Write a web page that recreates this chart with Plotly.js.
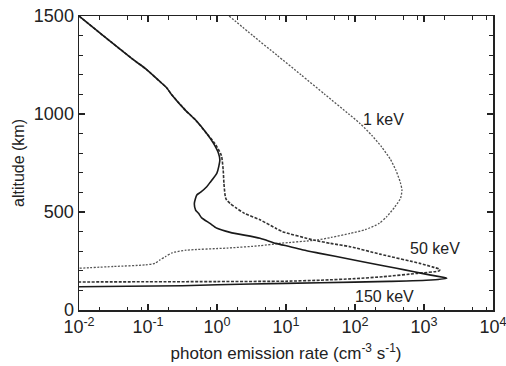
<!DOCTYPE html>
<html>
<head>
<meta charset="utf-8">
<script src="https://cdn.plot.ly/plotly-3.0.1.min.js"></script>
<style>
html,body{margin:0;padding:0;background:#fff;}
#chart{width:506px;height:366px;}
</style>
</head>
<body>
<div id="chart"></div>
<script>
// 150 keV (solid)
const alt150 = [1500,1400,1276,1230,1173,1135,1100,1020,969,900,850,800,765,700,650,629,600,587,544,510,493,470,442,417,396,366,340,323,306,289,259,236,213,196,178,162,153,146,139,133,124,121,119];
const rate150 = [0.010,0.0224,0.062,0.093,0.141,0.185,0.219,0.347,0.49,0.71,0.89,1.05,1.10,1.00,0.79,0.71,0.575,0.51,0.47,0.49,0.54,0.60,0.79,1.00,1.55,4.2,7.1,11.5,17.8,31,85,182,400,690,1260,2140,1260,316,31.6,3.16,0.316,0.05,0.010];

// 50 keV (dotted, dark)
const alt50 = [1500,1400,1276,1230,1173,1135,1100,1020,969,900,850,800,782,714,646,578,561,544,520,493,460,417,400,357,340,323,285,238,220,207,200,187,170,160,152,147,145,144,143];
const rate50 = [0.010,0.0224,0.062,0.093,0.141,0.185,0.219,0.347,0.49,0.71,0.93,1.12,1.17,1.23,1.26,1.32,1.38,1.55,1.91,2.5,4.2,7.1,8.9,25,44,85,230,870,1320,1700,1660,800,257,100,31.6,10,1.0,0.1,0.010];

// 1 keV (fine dotted, grey)
const alt1 = [1500,1400,1300,1200,1100,1000,952,890,833,770,714,650,612,570,527,476,442,410,391,370,357,340,328,316,305,292,272,255,238,230,222,213];
const rate1 = [1.50,3.3,7.4,16.5,36.6,81,118,176,242,324,390,455,479,457,380,288,224,141,85,45,28,8.1,4.2,1.41,0.355,0.224,0.178,0.148,0.126,0.091,0.032,0.010];

// axis ticks and labels
const xMajor = [0.01,0.1,1,10,100,1000,10000];
const xMajorText = ["10<sup>-2</sup>","10<sup>-1</sup>","10<sup>0</sup>","10<sup>1</sup>","10<sup>2</sup>","10<sup>3</sup>","10<sup>4</sup>"];
const xMinorMult = [2,5,8];
const yMajor = [0,500,1000,1500];
const yMinor = [100,200,300,400,600,700,800,900,1100,1200,1300,1400];

// curve labels
const labelText = ["1 keV","50 keV","150 keV"];
const labelX = [263, 1450, 270];
const labelY = [972, 314, 69];

const xMinor = [];
xMajor.slice(0,-1).forEach(d => xMinorMult.forEach(m => xMinor.push(d*m)));

const fontFam = 'Liberation Sans, Arial, Helvetica, sans-serif';

const traces = [
  {x: rate1, y: alt1, mode:'lines', line:{color:'#555', width:1.3, dash:'2px,1.5px', shape:'spline', smoothing:0.6}, hoverinfo:'skip'},
  {x: rate50, y: alt50, mode:'lines', line:{color:'#333', width:1.6, dash:'3px,1.5px', shape:'spline', smoothing:0.6}, hoverinfo:'skip'},
  {x: rate150, y: alt150, mode:'lines', line:{color:'#1a1a1a', width:1.6, shape:'spline', smoothing:0.6}, hoverinfo:'skip'}
];

const annotations = labelText.map((t,i)=>({
  x: Math.log10(labelX[i]), y: labelY[i], xref:'x', yref:'y', text:t, showarrow:false,
  font:{family:fontFam, size:16, color:'#222'}
}));

const layout = {
  width:506, height:366,
  margin:{l:79, r:13, t:16, b:56},
  paper_bgcolor:'#fff', plot_bgcolor:'#fff',
  showlegend:false,
  font:{family:fontFam, color:'#222'},
  xaxis:{
    type:'log', range:[-2,4], tickmode:'array', tickvals:xMajor, ticktext:xMajorText,
    ticks:'inside', ticklen:6, tickwidth:1.2, tickcolor:'#222', ticklabeloverflow:'allow',
    minor:{tickmode:'array', tickvals:xMinor, ticks:'inside', ticklen:3.5, tickwidth:1.1, tickcolor:'#222', showgrid:false},
    showline:true, linecolor:'#222', linewidth:1.5, mirror:'ticks', showgrid:false, zeroline:false,
    tickfont:{family:fontFam, size:18, color:'#222'},
    title:{text:'photon emission rate (cm<sup>-3</sup> s<sup>-1</sup>)', font:{family:fontFam, size:17, color:'#222'}, standoff:11}
  },
  yaxis:{
    range:[0,1500], tickmode:'array', tickvals:yMajor,
    ticks:'inside', ticklen:6, tickwidth:1.2, tickcolor:'#222',
    minor:{tickmode:'array', tickvals:yMinor, ticks:'inside', ticklen:4, tickwidth:1.1, tickcolor:'#222', showgrid:false},
    showline:true, linecolor:'#222', linewidth:1.5, mirror:'ticks', showgrid:false, zeroline:false,
    tickfont:{family:fontFam, size:18, color:'#222'},
    title:{text:'altitude (km)', font:{family:fontFam, size:16, color:'#222'}, standoff:5}
  },
  annotations: annotations
};

Plotly.newPlot('chart', traces, layout, {staticPlot:true, displayModeBar:false});
</script>
</body>
</html>
